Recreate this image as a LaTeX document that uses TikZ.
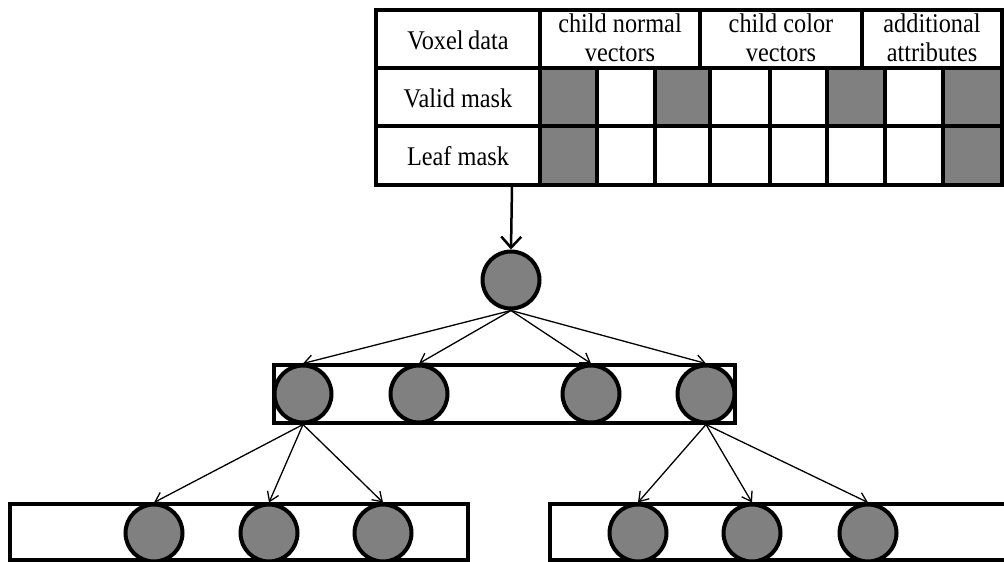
\documentclass[tikz,border=0pt]{standalone}
\usepackage{fontspec}
\setmainfont[FakeStretch=0.9]{Liberation Serif}
\usetikzlibrary{arrows.meta}
\begin{document}
\begin{tikzpicture}[x=1pt,y=-1pt,
  ball/.style={circle,draw=black,line width=4pt,fill=gray50,minimum size=57pt,inner sep=0pt},
  tbl/.style={line width=4pt},
  rowbox/.style={draw=black,line width=4pt,fill=white},
  lbl/.style={font=\fontsize{27}{29}\selectfont,align=center,inner sep=0pt},
  thin arrow/.style={line width=1.3pt,-{Straight Barb[length=9pt,width=12pt,line width=1.3pt]}},
  main arrow/.style={line width=2.5pt,-{Straight Barb[length=11pt,width=20pt,line width=2.5pt]}}
]
\definecolor{gray50}{HTML}{808080}
\useasboundingbox (0,0) rectangle (1004,562);

% ---- table ----
\foreach \a/\b in {540/597,655/710,827/885,943/1002}
  \fill[gray50] (\a,68) rectangle (\b,126);
\foreach \a/\b in {540/597,943/1002}
  \fill[gray50] (\a,126) rectangle (\b,185);
\draw[tbl] (376,10) rectangle (1002,185);
\draw[tbl] (376,68) -- (1002,68);
\draw[tbl] (376,126) -- (1002,126);
\draw[tbl] (540,10) -- (540,185);
\draw[tbl] (700,10) -- (700,68);
\draw[tbl] (862,10) -- (862,68);
\foreach \x in {597,655,710,770,827,885,943}
  \draw[tbl] (\x,68) -- (\x,185);

\node[lbl] (hvox) at (458,40) {Voxel\,data};
\node[lbl] (hnorm) at (620,38) {child normal\\vectors};
\node[lbl] (hcol) at (781,38) {child color\\vectors};
\node[lbl] (hadd) at (932,38) {additional\\attributes};
\node[lbl] (hvalid) at (458,98) {Valid mask};
\node[lbl] (hleaf) at (458,156) {Leaf mask};

\coordinate (tab) at (512,186);

% ---- tree ----
\node[ball] (root) at (511,280) {};

\draw[rowbox] (274,365) rectangle (735,423);
\node[ball] (m1) at (303,394) {};
\node[ball] (m2) at (419,394) {};
\node[ball] (m3) at (591,394) {};
\node[ball] (m4) at (706,394) {};

\draw[rowbox] (10,504) rectangle (468,560);
\draw[rowbox] (550,504) rectangle (1012,560);
\node[ball] (l1) at (154,533) {};
\node[ball] (l2) at (269,533) {};
\node[ball] (l3) at (383,533) {};
\node[ball] (r1) at (638,533) {};
\node[ball] (r2) at (752,533) {};
\node[ball] (r3) at (868,533) {};

\draw[main arrow] (tab) -- (root.north);
\foreach \n in {m1,m2,m3,m4}
  \draw[thin arrow] (root.south) -- (\n.north);
\foreach \n in {l1,l2,l3}
  \draw[thin arrow] (m1.south) -- (\n.north);
\foreach \n in {r1,r2,r3}
  \draw[thin arrow] (m4.south) -- (\n.north);
\end{tikzpicture}
\end{document}
